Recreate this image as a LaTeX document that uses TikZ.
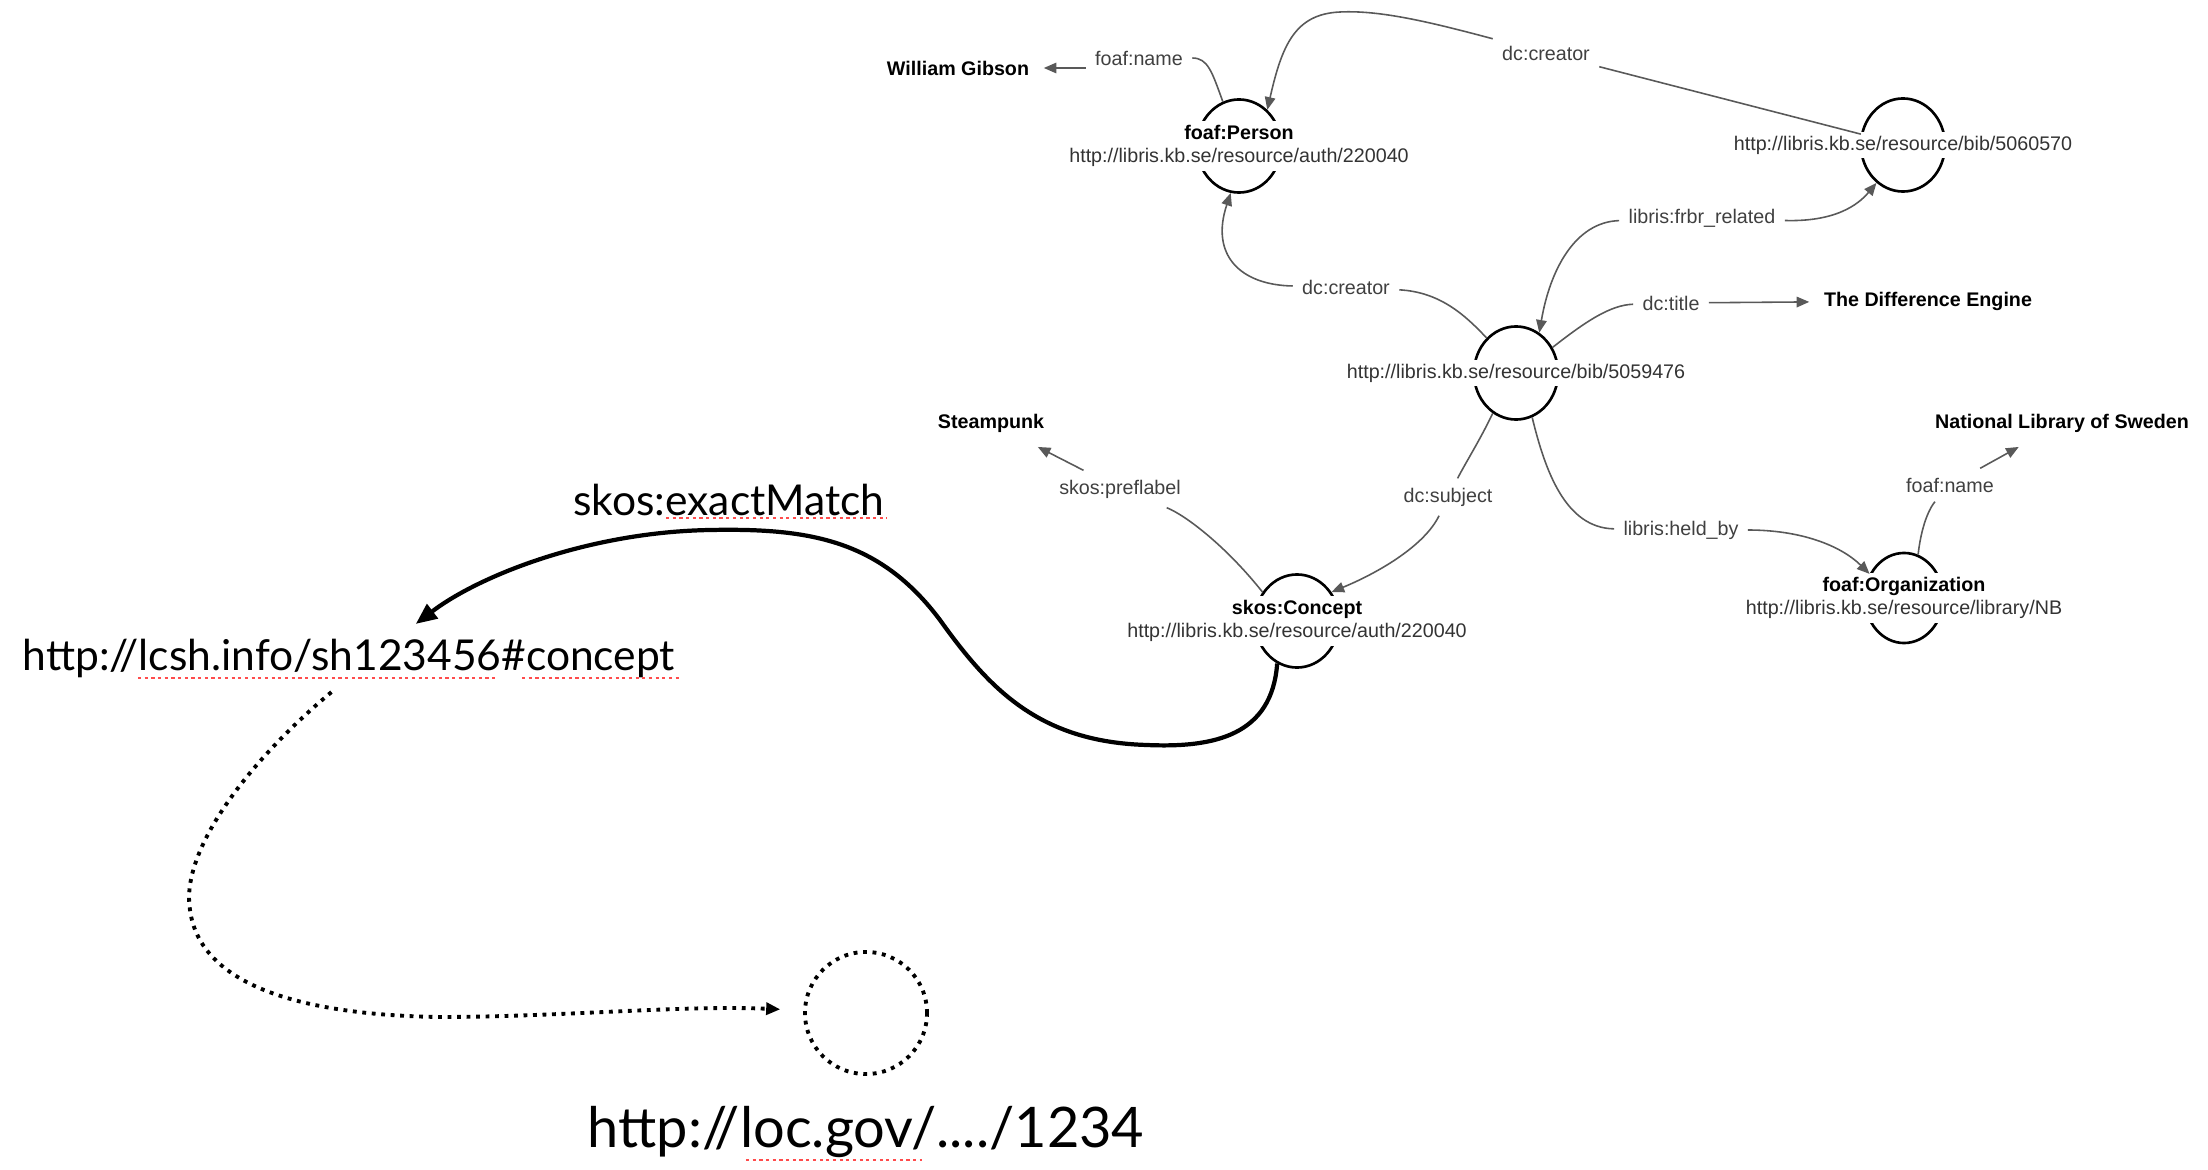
\documentclass[tikz,border=0pt]{standalone}
\usepackage{fontspec}
\setmainfont{Liberation Sans}
\newfontfamily\gillfont{Lato}
\usepackage{tikz}
\usetikzlibrary{arrows.meta, shapes.geometric}

\begin{document}
\begin{tikzpicture}[x=0.01cm, y=-0.01cm,
  res/.style={draw, ellipse, line width=0.75pt, minimum width=0.84cm,
              minimum height=0.93cm, inner sep=0pt},
  uri/.style={fill=white, inner sep=1.2pt, align=center, text=black!80,
              font=\fontsize{5.6}{6.4}\selectfont},
  lit/.style={inner sep=4pt, font=\fontsize{5.6}{6.4}\selectfont\bfseries},
  prop/.style={inner sep=2.5pt, text=black!75, font=\fontsize{5.6}{6.4}\selectfont},
  link/.style={draw=black!65, line width=0.45pt},
  arr/.style={link, -{Triangle[length=3.6pt, width=3pt]}},
  big/.style={inner sep=2pt, font=\gillfont\fontsize{12.1}{15}\selectfont},
  matcharr/.style={line width=1.2pt, -{Triangle[length=6pt, width=5pt]}},
  dotline/.style={line width=1.1pt, dash pattern=on 1.1pt off 1.6pt},
  spellmark/.style={draw=red!70, line width=0.8pt, dash pattern=on 0.9pt off 1pt}
]
  \useasboundingbox (0,0) rectangle (2208,1170);

  \node[res] (person)  at (1239,146) {};
  \node[res] (bibtwo)  at (1903,145) {};
  \node[res] (bibone)  at (1516,373) {};
  \node[res] (concept) at (1297,621) {};
  \node[res, minimum width=0.78cm, minimum height=0.9cm] (org) at (1904,598) {};

  \node[uri] (personuri)  at (person)  {\textcolor{black}{\textbf{foaf:Person}}\\http://libris.kb.se/resource/auth/220040};
  \node[uri] (bibtwouri)  at (bibtwo)  {http://libris.kb.se/resource/bib/5060570};
  \node[uri] (biboneuri)  at (bibone)  {http://libris.kb.se/resource/bib/5059476};
  \node[uri] (concepturi) at (concept) {\textcolor{black}{\textbf{skos:Concept}}\\http://libris.kb.se/resource/auth/220040};
  \node[uri] (orguri)     at (org)     {\textcolor{black}{\textbf{foaf:Organization}}\\http://libris.kb.se/resource/library/NB};

  \node[lit] (gibson)    at (958,68)   {William Gibson};
  \node[lit] (diffeng)   at (1928,301) {The Difference Engine};
  \node[lit] (steampunk) at (991,423)  {Steampunk};
  \node[lit] (nls)       at (2062,423) {National Library of Sweden};

  \node[prop] (namep)     at (1139,58)  {foaf:name};
  \node[prop] (creatort)  at (1546,53)  {dc:creator};
  \node[prop] (frbr)      at (1702,218) {libris:frbr\_related};
  \node[prop] (creatorb)  at (1346,287) {dc:creator};
  \node[prop] (title)     at (1671,303) {dc:title};
  \node[prop] (subject)   at (1448,497) {dc:subject};
  \node[prop] (heldby)    at (1681,530) {libris:held\_by};
  \node[prop] (nameo)     at (1950,485) {foaf:name};
  \node[prop] (preflabel) at (1120,489) {skos:preflabel};

  \draw[link] (person) .. controls (1212,72) and (1208,58) .. (namep);
  \draw[arr]  (namep.west |- gibson.east) -- (gibson.east);

  \draw[link] (bibtwo) -- (creatort);
  \draw[arr]  (creatort) .. controls (1430,22) and (1380,10) .. (1340,12)
              .. controls (1295,14) and (1282,45) .. (person.52);

  \draw[link] (bibone.130) .. controls (1465,315) and (1440,292) .. (creatorb);
  \draw[arr]  (creatorb) .. controls (1240,285) and (1210,255) .. (person.-100);

  \draw[arr]  (frbr) .. controls (1575,222) and (1550,270) .. (bibone.60);
  \draw[arr]  (frbr) .. controls (1835,222) and (1858,205) .. (bibtwo.-125);

  \draw[link] (bibone.35) .. controls (1585,322) and (1610,305) .. (title);
  \draw[arr]  (title) -- (diffeng);

  \draw[link] (bibone.-120) .. controls (1480,440) and (1466,462) .. (subject);
  \draw[arr]  (subject) .. controls (1425,545) and (1380,572) .. (concept.40);

  \draw[link] (bibone.-70) .. controls (1545,470) and (1565,528) .. (heldby);
  \draw[arr]  (heldby) .. controls (1800,530) and (1840,545) .. (org.145);

  \draw[link] (org.72) .. controls (1922,520) and (1932,505) .. (nameo);
  \draw[arr]  (nameo) -- (nls);

  \draw[link] (concept.140) .. controls (1225,545) and (1185,515) .. (preflabel);
  \draw[arr]  (preflabel) -- (steampunk);

  \node[big] (exactmatch) at (729,500) {skos:exactMatch};
  \node[big, inner sep=4pt] (lcsh) at (349,658) {http://lcsh.info/sh123456\#concept};
  \node[draw, circle, dotline, minimum size=1.22cm] (loc) at (866,1013) {};
  \node[big, font=\gillfont\fontsize{15.9}{19}\selectfont] (locuri) at (866,1132) {http://loc.gov/..../1234};

  \draw[matcharr] (concept.-115) .. controls (1272,735) and (1215,748) .. (1147,745)
                  .. controls (1040,742) and (990,690) .. (940,620)
                  .. controls (880,540) and (810,528) .. (710,530)
                  .. controls (590,532) and (480,575) .. ([xshift=19pt]lcsh.north);
  \draw[dotline, -{Triangle[length=4pt, width=3.4pt]}, shorten >=6.5pt]
        ([xshift=-5pt]lcsh.south) .. controls (250,760) and (180,850) .. (190,910)
        .. controls (200,985) and (300,1015) .. (440,1017)
        .. controls (560,1017) and (680,1005) .. (loc);

  \draw[spellmark] (666,518) -- (887,518);
  \draw[spellmark] (138,678) -- (497,678);
  \draw[spellmark] (522,678) -- (680,678);
  \draw[spellmark] (746,1160) -- (922,1160);
\end{tikzpicture}
\end{document}
